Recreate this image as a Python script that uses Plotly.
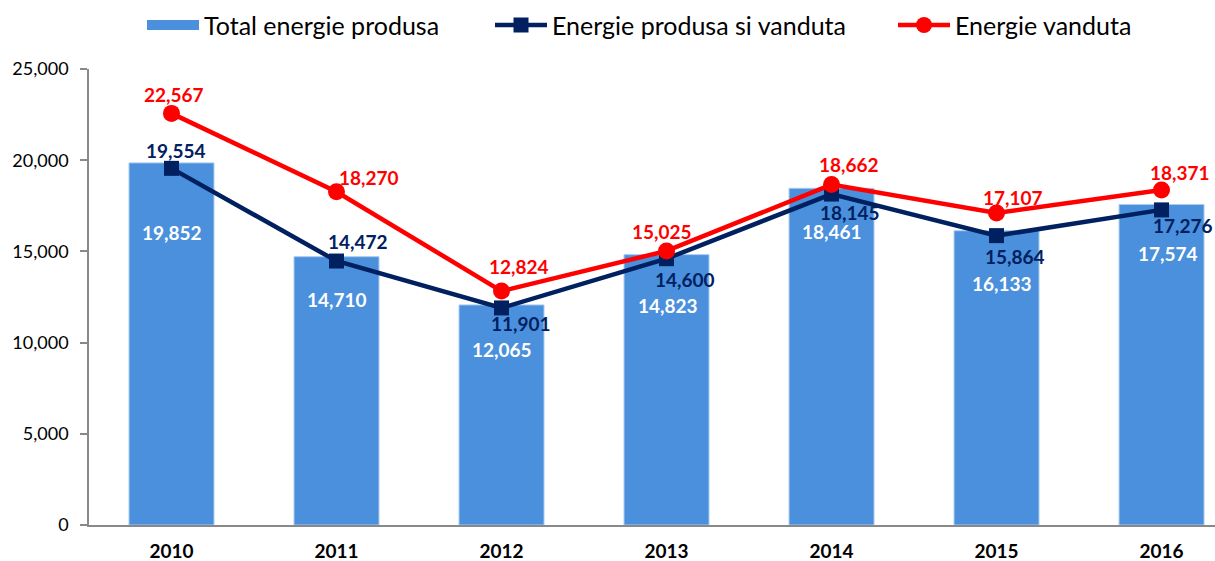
import plotly.graph_objects as go

years = ["2010", "2011", "2012", "2013", "2014", "2015", "2016"]
total_produsa = [19852, 14710, 12065, 14823, 18461, 16133, 17574]
produsa_vanduta = [19554, 14472, 11901, 14600, 18145, 15864, 17276]
vanduta = [22567, 18270, 12824, 15025, 18662, 17107, 18371]

# label offsets in pixels (dx, dy; dy positive = down)
bar_lbl_off = [(0, 70), (0, 43), (0, 45), (1, 51), (0, 43), (5, 53), (6, 49)]
navy_lbl_off = [(4, -18), (21, -20), (19, 16), (18, 21), (18, 18), (18, 21), (21, 16)]
red_lbl_off = [(2, -19), (32, -14), (17, -25), (-5, -19), (17, -20), (16, -15), (18, -17)]

FONT = "Lato"
BAR_C = "#4A90DC"
NAVY = "#002060"
RED = "#FF0000"

fig = go.Figure()
fig.add_trace(go.Bar(
    x=years, y=total_produsa, name="Total energie produsa",
    marker=dict(color=BAR_C, line=dict(color="#A9CBEF", width=1)),
    width=0.515, showlegend=False,
))
# legend entry for the bars (wide rectangle swatch)
fig.add_trace(go.Scatter(
    x=[None], y=[None], name="Total energie produsa", mode="lines",
    line=dict(color=BAR_C, width=14), legend="legend",
))
fig.add_trace(go.Scatter(
    x=years, y=produsa_vanduta, name="Energie produsa si vanduta",
    mode="lines+markers",
    line=dict(color=NAVY, width=4.5),
    marker=dict(symbol="square", size=15, color=NAVY),
    legend="legend2",
))
fig.add_trace(go.Scatter(
    x=years, y=vanduta, name="Energie vanduta",
    mode="lines+markers",
    line=dict(color=RED, width=4.5),
    marker=dict(symbol="circle", size=17, color=RED),
    legend="legend3",
))

annots = []
for series, offs, col in [(total_produsa, bar_lbl_off, "white"),
                          (produsa_vanduta, navy_lbl_off, NAVY),
                          (vanduta, red_lbl_off, RED)]:
    for i, (v, (dx, dy)) in enumerate(zip(series, offs)):
        annots.append(dict(
            x=i, y=v, xref="x", yref="y", text=f"<b>{v:,}</b>",
            showarrow=False, xshift=dx, yshift=-dy,
            xanchor="center", yanchor="middle",
            font=dict(family=FONT, size=19, color=col),
        ))

leg_common = dict(orientation="h", yanchor="middle", y=1.096, xanchor="left",
                  font=dict(family=FONT, size=25, color="black"),
                  itemwidth=52, bgcolor="rgba(0,0,0,0)")

fig.update_layout(
    width=1215, height=561,
    margin=dict(l=89, r=0, t=69, b=36),
    paper_bgcolor="white", plot_bgcolor="white",
    font=dict(family=FONT, color="black"),
    annotations=annots,
    showlegend=True,
    legend=dict(leg_common, x=(142 - 89) / 1126),
    legend2=dict(leg_common, x=(490 - 89) / 1126),
    legend3=dict(leg_common, x=(893 - 89) / 1126),
)
fig.update_xaxes(
    type="category", range=[-0.5, 6.324],
    showline=True, linecolor="#898989", linewidth=1.5,
    showgrid=False, ticks="", ticklabelstandoff=8,
    tickfont=dict(family=FONT, size=19, color="black", weight="bold"),
)
fig.update_yaxes(
    range=[0, 25000], tickvals=[0, 5000, 10000, 15000, 20000, 25000],
    tickformat=",d",
    showline=True, linecolor="#898989", linewidth=1.5,
    showgrid=False, zeroline=False,
    ticks="outside", ticklen=7, tickcolor="#898989", tickwidth=1.5,
    ticklabelstandoff=8,
    tickfont=dict(family=FONT, size=18, color="black"),
)

fig.write_html("out.html", config={"displayModeBar": False},
               post_script="document.body.style.margin='0';")
